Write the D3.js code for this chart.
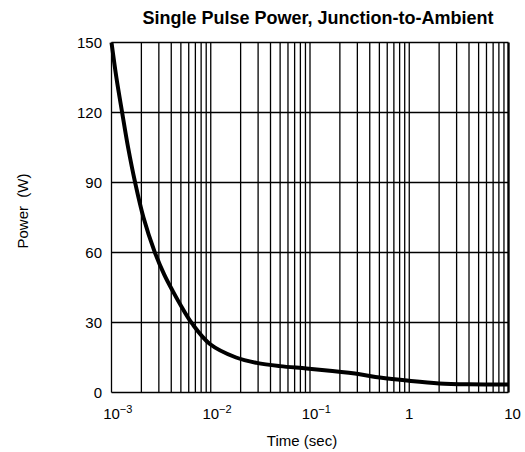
<!DOCTYPE html>
<html>
<head>
<meta charset="utf-8">
<script src="https://cdn.jsdelivr.net/npm/d3@7"></script>
<style>
  body { margin: 0; background: #fff; }
  svg text { font-family: "Liberation Sans", Arial, sans-serif; fill: #000; }
</style>
</head>
<body>
<svg></svg>
<script>
// curve: time (sec) and power (W)
let times = [0.001, 0.00112, 0.00128, 0.00147, 0.00173, 0.0021, 0.00271, 0.0034, 0.0042, 0.0052, 0.0065, 0.0098, 0.018, 0.029, 0.0497, 0.092, 0.158, 0.317, 0.505, 1.0, 2.0, 4.0, 10]
let powers = [150, 135, 120, 105, 90, 75, 60.5, 50.5, 43, 36, 29.5, 20.8, 15, 12.7, 11.3, 10.3, 9.3, 7.8, 6.4, 5.0, 3.9, 3.5, 3.4]

let xTicks = [0.001, 0.01, 0.1, 1, 10]
let xTickLabels = [['10', '\u22123'], ['10', '\u22122'], ['10', '\u22121'], ['1', ''], ['10', '']]
let yTicks = [0, 30, 60, 90, 120, 150]

let width = 525
let height = 452
let plotLeft = 111.5
let plotRight = 508.5
let plotTop = 42.5
let plotBottom = 392.5

let svg = d3.select('svg')
let xScale
let yScale

let drawCanvas = () => {
    svg.attr('width', width)
    svg.attr('height', height)
}

let genScales = () => {
    xScale = d3.scaleLog()
                .domain([0.001, 10])
                .range([plotLeft, plotRight])
    yScale = d3.scaleLinear()
                .domain([0, 150])
                .range([plotBottom, plotTop])
}

let drawGrid = () => {
    // minor + major decade lines
    let vLines = []
    for (let e = -3; e < 1; e++) {
        for (let m = 1; m < 10; m++) {
            vLines.push(m * Math.pow(10, e))
        }
    }
    vLines.push(10)

    svg.append('g')
        .selectAll('line')
        .data(vLines)
        .enter()
        .append('line')
        .attr('x1', d => xScale(d))
        .attr('x2', d => xScale(d))
        .attr('y1', plotTop)
        .attr('y2', plotBottom)
        .attr('stroke', '#000')
        .attr('stroke-width', d => d === 10 ? 2.4 : 1.3)

    svg.append('g')
        .selectAll('line')
        .data(yTicks)
        .enter()
        .append('line')
        .attr('x1', plotLeft)
        .attr('x2', plotRight)
        .attr('y1', d => yScale(d))
        .attr('y2', d => yScale(d))
        .attr('stroke', '#000')
        .attr('stroke-width', 1.3)
}

let drawCurve = () => {
    let pts = times.map((t, i) => [t, powers[i]])
    let line = d3.line()
                .x(d => xScale(d[0]))
                .y(d => yScale(d[1]))
                .curve(d3.curveCatmullRom.alpha(0.5))
    svg.append('path')
        .datum(pts)
        .attr('d', line)
        .attr('fill', 'none')
        .attr('stroke', '#000')
        .attr('stroke-width', 4)
        .attr('stroke-linejoin', 'round')
}

let genAxes = () => {
    let yg = svg.append('g')
    yg.selectAll('text')
        .data(yTicks)
        .enter()
        .append('text')
        .attr('x', 102)
        .attr('y', d => yScale(d) + 5.5)
        .attr('text-anchor', 'end')
        .style('font-size', '15px')
        .text(d => d)

    let xg = svg.append('g')
    xTicks.forEach((t, i) => {
        let lab = xTickLabels[i]
        let txt = xg.append('text')
            .attr('y', 419)
            .style('font-size', '15px')
        let base = txt.append('tspan').text(lab[0])
        if (lab[1] !== '') {
            txt.append('tspan')
                .attr('dy', -6)
                .style('font-size', '11px')
                .text(lab[1])
        }
        let bw = base.node().getComputedTextLength()
        txt.attr('x', xScale(t) - bw / 2 + (t === 10 ? 4 : 0))
    })

    svg.append('text')
        .attr('x', 302)
        .attr('y', 446)
        .attr('text-anchor', 'middle')
        .style('font-size', '15px')
        .text('Time (sec)')

    svg.append('text')
        .attr('transform', 'translate(28, 211) rotate(-90)')
        .attr('text-anchor', 'middle')
        .style('font-size', '15px')
        .text('Power\u00a0\u00a0(W)')
}

let genTitle = () => {
    svg.append('text')
        .attr('x', 318)
        .attr('y', 24)
        .attr('text-anchor', 'middle')
        .style('font-size', '18px')
        .style('font-weight', 700)
        .text('Single Pulse Power, Junction-to-Ambient')
}

drawCanvas()
genScales()
drawGrid()
drawCurve()
genAxes()
genTitle()
</script>
</body>
</html>
